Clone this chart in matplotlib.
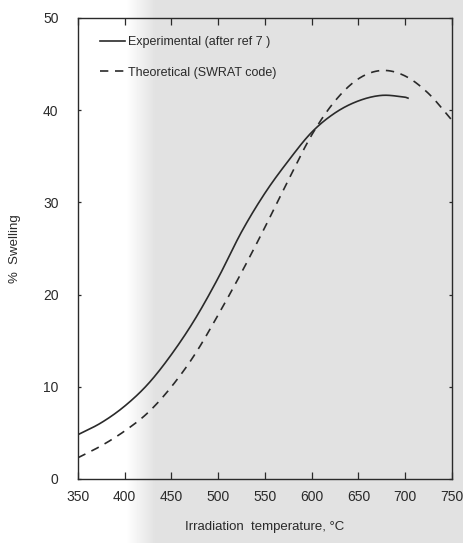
import numpy as np
import matplotlib.pyplot as plt

# Swelling vs irradiation temperature
exp_temp = [350, 375, 400, 425, 450, 475, 500, 525, 550, 575, 600, 625, 650, 675, 700, 703]
exp_swell = [4.8, 6.1, 7.9, 10.3, 13.5, 17.3, 21.8, 26.8, 31.0, 34.5, 37.6, 39.7, 41.0, 41.6, 41.4, 41.3]

theo_temp = [350, 375, 400, 425, 450, 475, 500, 525, 550, 575, 600, 625, 650, 675, 700, 725, 750]
theo_swell = [2.3, 3.6, 5.2, 7.2, 10.0, 13.5, 17.8, 22.4, 27.3, 32.4, 37.3, 41.0, 43.4, 44.3, 43.7, 41.8, 38.9]

x_ticks = [350, 400, 450, 500, 550, 600, 650, 700, 750]
y_ticks = [0, 10, 20, 30, 40, 50]

ink = "#2a2a2a"
plt.rcParams["font.family"] = ["Liberation Sans", "DejaVu Sans"]

fig = plt.figure(figsize=(4.64, 5.43), dpi=100)

# scanned-paper background: white on the left, light grey to the right
bg = fig.add_axes([0, 0, 1, 1], zorder=-10)
grad = np.concatenate([np.ones(125), np.linspace(1.0, 0.89, 30), np.full(309, 0.885)])
bg.imshow(np.tile(grad, (10, 1)), cmap="gray", vmin=0, vmax=1, aspect="auto",
          extent=[0, 1, 0, 1])
bg.axis("off")

ax = fig.add_axes([0.168, 0.118, 0.806, 0.849])
ax.patch.set_alpha(0)


def smooth(xs, ys, n=300):
    # Catmull-Rom style cubic through the read points, just for a smooth stroke
    xs, ys = np.asarray(xs, float), np.asarray(ys, float)
    xx = np.linspace(xs[0], xs[-1], n)
    out = []
    for x in xx:
        i = min(np.searchsorted(xs, x, side="right") - 1, len(xs) - 2)
        i0, i1, i2, i3 = max(i - 1, 0), i, i + 1, min(i + 2, len(xs) - 1)
        h = xs[i2] - xs[i1]
        t = (x - xs[i1]) / h
        m1 = (ys[i2] - ys[i0]) / (xs[i2] - xs[i0]) * h
        m2 = (ys[i3] - ys[i1]) / (xs[i3] - xs[i1]) * h
        out.append((2 * t**3 - 3 * t**2 + 1) * ys[i1] + (t**3 - 2 * t**2 + t) * m1
                   + (-2 * t**3 + 3 * t**2) * ys[i2] + (t**3 - t**2) * m2)
    return xx, np.array(out)


ex, ey = smooth(exp_temp, exp_swell)
tx, ty = smooth(theo_temp, theo_swell)
ax.plot(ex, ey, color=ink, lw=1.2, label="Experimental (after ref 7 )")
ax.plot(tx, ty, color=ink, lw=1.2, ls=(0, (5, 4)), label="Theoretical (SWRAT code)")

ax.set_xlim(350, 750)
ax.set_ylim(0, 50)
ax.set_xticks(x_ticks)
ax.set_yticks(y_ticks)
ax.tick_params(axis="x", direction="in", top=True, length=5, width=0.9,
               colors=ink, labelsize=10, pad=8)
ax.tick_params(axis="y", direction="in", right=True, length=2, width=0.9,
               colors=ink, labelsize=10, pad=14)
for s in ax.spines.values():
    s.set_color(ink)
    s.set_linewidth(1.0)

ax.set_xlabel("Irradiation  temperature, \u00b0C", fontsize=9.5, color=ink, labelpad=12)
ax.set_ylabel("%  Swelling", fontsize=9.5, color=ink, labelpad=16)

leg = ax.legend(loc="upper left", bbox_to_anchor=(0.03, 0.985), frameon=False,
                handlelength=2.0, handletextpad=0.2, labelspacing=1.5, fontsize=9)
for t in leg.get_texts():
    t.set_color(ink)

fig.savefig("out.png", dpi=100)
